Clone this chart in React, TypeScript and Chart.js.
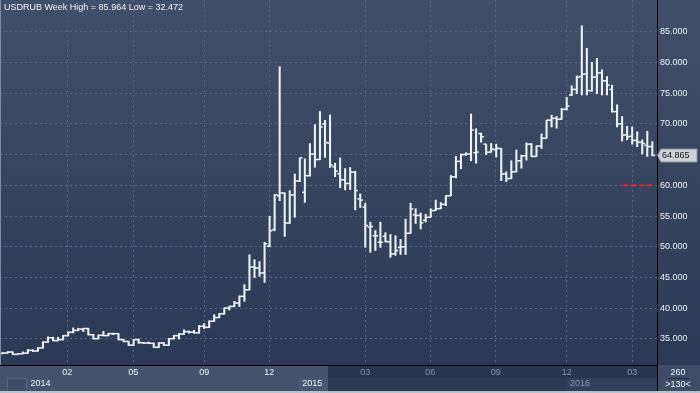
import React, { useEffect, useRef } from 'react';
import { Chart, registerables } from 'chart.js';

Chart.register(...registerables);

const TITLE = 'USDRUB Week High = 85.964 Low = 32.472';

const OPEN = [
  32.65, 32.72, 32.88, 32.5, 32.6, 32.7, 33.15, 33.05, 33.54, 34.5,
  35.2, 34.73, 34.9, 35.54, 36.08, 36.4, 36.6, 36.7, 35.7, 35.05,
  35.6, 35.55, 35.87, 35.87, 34.9, 34.6, 34.0, 34.9, 34.4, 34.35,
  34.3, 33.65, 34.35, 34.0, 35.05, 35.54, 35.8, 36.2, 36.1, 36.0,
  37.06, 36.9, 37.9, 38.5, 39.1, 40.04, 40.3, 40.86, 41.94, 43.0,
  46.7, 46.55, 45.74, 50.1, 52.8, 58.3, 58.75, 53.87, 58.43, 60.7,
  58.86, 61.57, 65.1, 64.2, 69.97, 66.88, 63.0, 61.9, 60.9, 60.3,
  62.14, 57.8, 56.45, 53.2, 51.8, 50.75, 51.7, 50.8, 48.85, 49.9,
  50.0, 52.2, 55.2, 55.1, 54.3, 54.8, 55.9, 56.2, 56.9, 58.3,
  61.4, 63.9, 65.0, 65.1, 65.3, 68.4, 66.7, 65.4, 65.8, 66.0,
  61.84, 61.1, 62.2, 64.0, 64.8, 66.7, 64.7, 66.4, 67.65, 70.6,
  70.9, 70.74, 72.36, 74.7, 75.6, 77.7, 78.1, 75.4, 77.6, 78.3,
  77.0, 75.6, 72.0, 70.0, 68.2, 68.0, 67.3, 67.0, 66.5, 66.3,
];
const HIGH = [
  32.8, 32.95, 32.9, 32.65, 32.9, 33.3, 33.25, 33.6, 34.55, 35.35,
  35.3, 35.3, 35.6, 36.15, 36.8, 36.75, 36.75, 36.75, 35.75, 35.65,
  36.25, 35.95, 35.95, 35.9, 34.95, 34.65, 34.95, 35.0, 34.45, 34.5,
  34.35, 34.4, 34.4, 35.1, 35.6, 35.9, 36.5, 36.3, 36.4, 37.2,
  37.5, 37.95, 38.96, 39.15, 40.05, 40.35, 41.13, 42.0, 43.84, 48.7,
  47.9, 47.6, 50.73, 54.96, 58.5, 79.3, 58.8, 59.13, 61.84, 64.45,
  64.3, 66.78, 69.87, 72.0, 70.56, 71.45, 63.6, 64.47, 62.73, 62.9,
  62.3, 58.6, 57.1, 54.0, 52.65, 54.0, 52.3, 52.0, 51.8, 51.2,
  54.5, 57.1, 56.2, 55.5, 55.3, 56.2, 57.6, 57.2, 58.3, 61.6,
  64.7, 65.1, 65.3, 71.6, 69.2, 68.5, 66.7, 66.8, 66.7, 66.0,
  62.2, 64.0, 65.75, 64.9, 66.9, 66.8, 66.4, 68.35, 70.6, 71.4,
  71.2, 72.5, 74.3, 76.2, 77.8, 85.96, 82.3, 80.0, 80.66, 78.8,
  77.7, 76.3, 73.1, 71.2, 69.6, 69.5, 68.7, 67.4, 68.8, 67.1,
];
const LOW = [
  32.6, 32.7, 32.47, 32.48, 32.58, 32.68, 32.95, 33.0, 33.5, 34.45,
  34.7, 34.7, 34.85, 35.5, 36.0, 36.35, 36.2, 35.65, 35.0, 35.0,
  35.5, 35.5, 35.7, 34.85, 34.55, 33.95, 33.95, 34.3, 34.25, 34.25,
  33.6, 33.6, 33.95, 33.95, 35.0, 35.0, 35.75, 35.95, 35.95, 35.95,
  36.7, 36.85, 37.85, 38.45, 39.05, 39.7, 40.25, 40.3, 41.13, 43.0,
  45.0, 45.2, 44.2, 50.0, 52.6, 57.5, 51.7, 53.8, 54.8, 60.6,
  57.23, 61.5, 62.95, 64.2, 64.55, 62.9, 61.4, 59.6, 59.26, 59.3,
  56.0, 56.4, 49.9, 49.1, 49.4, 49.9, 50.8, 48.3, 48.6, 48.75,
  48.75, 52.2, 53.8, 52.9, 54.05, 54.8, 55.9, 56.2, 56.7, 58.3,
  61.2, 62.7, 64.9, 64.0, 63.6, 67.0, 65.0, 65.4, 64.6, 60.76,
  60.6, 61.1, 62.2, 62.8, 64.1, 64.7, 64.7, 66.0, 67.65, 69.5,
  69.3, 70.74, 72.26, 74.6, 74.9, 74.7, 74.7, 75.3, 74.9, 74.7,
  74.7, 71.9, 69.5, 67.2, 67.4, 66.7, 66.3, 65.1, 64.7, 64.8,
];
const CLOSE = [
  32.72, 32.88, 32.5, 32.6, 32.7, 33.15, 33.05, 33.54, 34.5, 35.2,
  34.73, 34.9, 35.54, 36.08, 36.4, 36.6, 36.7, 35.7, 35.05, 35.6,
  35.55, 35.87, 35.87, 34.9, 34.6, 34.0, 34.9, 34.4, 34.35, 34.3,
  33.65, 34.35, 34.0, 35.05, 35.54, 35.8, 36.2, 36.1, 36.0, 37.06,
  36.9, 37.9, 38.5, 39.1, 40.04, 40.3, 40.86, 41.94, 43.0, 46.7,
  46.55, 45.74, 50.5, 52.6, 58.48, 58.75, 53.87, 58.43, 60.7, 64.45,
  61.57, 65.1, 64.2, 69.49, 66.95, 63.3, 62.3, 60.9, 60.3, 62.14,
  59.15, 57.6, 53.46, 53.3, 51.8, 50.75, 50.85, 48.85, 49.4, 50.0,
  52.2, 56.17, 55.1, 53.9, 54.8, 55.9, 56.2, 56.9, 58.3, 61.4,
  63.9, 65.0, 65.1, 69.0, 65.4, 67.9, 65.4, 65.9, 66.0, 61.84,
  61.1, 62.2, 64.0, 64.8, 66.7, 64.7, 66.4, 67.65, 70.6, 70.9,
  70.74, 72.36, 72.9, 75.6, 77.6, 78.1, 75.4, 77.6, 78.3, 77.0,
  76.3, 72.0, 70.0, 68.2, 67.9, 67.3, 67.0, 66.8, 66.3, 64.865,
];

const MONTH_POS = [12.83, 25.93, 40.03, 52.94, 72.0, 84.9, 97.9, 112.0, 125.0];
const MONTH_LABELS = ['02', '05', '09', '12', '03', '06', '09', '12', '03'];
const YEAR_POS = [5.5, 59.5, 112.65];
const YEAR_LABELS = ['2014', '2015', '2016'];
const Y_TICKS = [35, 40, 45, 50, 55, 60, 65, 70, 75, 80, 85];
const LAST_PRICE = 64.865;
const TARGET_LEVEL = 60;
const TARGET_FROM = 123.2;
const TARGET_TO = 129.1;
const BARS_TOTAL = '260';
const BARS_VISIBLE = '>130<';

const FONT = 'Liberation Sans, Arial, sans-serif';
const WHITE = '#eef1f6';
const X_MIN = -0.536;
const X_MAX = 129.93;

const decor = {
  id: 'decor',
  beforeDraw(chart: any) {
    const { ctx, width, height, chartArea: ca } = chart;
    ctx.save();
    const g = ctx.createLinearGradient(0, 0, 0, ca.bottom);
    g.addColorStop(0, '#414f6a');
    g.addColorStop(1, '#2c3956');
    ctx.fillStyle = g;
    ctx.fillRect(0, 0, width, ca.bottom);
    const b = ca.bottom;
    ctx.fillStyle = '#283450';
    ctx.fillRect(0, b, ca.right, height - b);
    ctx.fillStyle = '#2e3a55';
    ctx.fillRect(0, b + 13, ca.right, height - b - 13);
    ctx.fillStyle = '#44526d';
    ctx.fillRect(0, b, 328, height - b);
    ctx.fillStyle = '#4a5874';
    ctx.fillRect(299, b + 13, 29, 12);
    ctx.fillStyle = '#404d68';
    ctx.fillRect(7, b + 13, 20, height - b - 13);
    ctx.strokeStyle = '#56647e';
    ctx.lineWidth = 1;
    ctx.strokeRect(7.5, b + 13.5, 19, height - b - 13);
    ctx.fillStyle = '#343f5a';
    ctx.fillRect(567, b + 13, ca.right - 567, 12);
    ctx.fillStyle = '#3f4c67';
    ctx.fillRect(ca.right, b, width - ca.right, height - b);
    ctx.restore();
  },
  afterDraw(chart: any) {
    const { ctx, width, height, chartArea: ca, scales } = chart;
    ctx.save();
    ctx.font = `9px ${FONT}`;
    ctx.fillStyle = WHITE;
    ctx.textBaseline = 'middle';
    ctx.textAlign = 'left';
    ctx.fillText(TITLE, 4, 8);
    const py = Math.round(scales.y.getPixelForValue(LAST_PRICE)) + 0.5;
    ctx.beginPath();
    ctx.moveTo(ca.right + 0.5, py);
    ctx.lineTo(ca.right + 4, py - 6.5);
    ctx.lineTo(width - 3, py - 6.5);
    ctx.lineTo(width - 3, py + 6.5);
    ctx.lineTo(ca.right + 4, py + 6.5);
    ctx.closePath();
    ctx.fillStyle = '#cfd3d9';
    ctx.fill();
    ctx.strokeStyle = '#8c929c';
    ctx.lineWidth = 1;
    ctx.stroke();
    ctx.fillStyle = '#111';
    ctx.fillText(LAST_PRICE.toFixed(3), ca.right + 5, py + 0.5);
    ctx.fillStyle = WHITE;
    ctx.textAlign = 'center';
    ctx.fillText(BARS_TOTAL, 678, ca.bottom + 7.5);
    ctx.fillText(BARS_VISIBLE, 678, ca.bottom + 19.5);
    ctx.strokeStyle = '#1e2a40';
    ctx.beginPath();
    ctx.moveTo(668, ca.bottom + 13.5);
    ctx.lineTo(689, ca.bottom + 13.5);
    ctx.stroke();
    ctx.fillStyle = '#b9c0cc';
    ctx.fillRect(0, height - 2, width, 2);
    ctx.fillStyle = '#7d8cab';
    ctx.fillRect(0, 0, 1, ca.bottom);
    ctx.fillStyle = '#000';
    ctx.fillRect(ca.right, ca.bottom, 1, height - ca.bottom - 2);
    ctx.restore();
  },
};

function xAxis(pos: number[], labels: string[], opts: any) {
  return {
    type: 'linear',
    position: 'bottom',
    offset: false,
    min: X_MIN,
    max: X_MAX,
    afterBuildTicks: (s: any) => {
      s.ticks = pos.map((v) => ({ value: v }));
    },
    afterFit: (s: any) => {
      s.height = opts.height;
      s.paddingLeft = 0;
      s.paddingRight = 0;
    },
    ticks: {
      autoSkip: false,
      maxRotation: 0,
      minRotation: 0,
      align: opts.align,
      padding: opts.padding,
      font: { family: FONT, size: 9 },
      color: (c: any) => (c.index < opts.bright ? WHITE : '#8795ad'),
      callback: (_v: any, i: number) => labels[i],
    },
    grid: opts.grid,
    border: opts.border,
    weight: opts.weight,
  };
}

export default function App() {
  const ref = useRef<HTMLCanvasElement | null>(null);
  useEffect(() => {
    if (!ref.current) return;
    const idx = CLOSE.map((_, i) => i);
    const chart = new Chart(ref.current, {
      type: 'bar',
      data: {
        datasets: [
          {
            type: 'bar',
            data: idx.map((i) => ({ x: i, y: [LOW[i], HIGH[i]] })) as any,
            backgroundColor: WHITE,
            borderWidth: 0,
            barThickness: 1.4,
            order: 2,
          } as any,
          {
            type: 'scatter',
            data: idx.map((i) => ({ x: i - 0.27, y: OPEN[i] })),
            pointStyle: 'line',
            pointRadius: 1.4,
            pointBorderColor: WHITE,
            pointBorderWidth: 1.5,
            borderColor: WHITE,
            order: 1,
          } as any,
          {
            type: 'scatter',
            data: idx.map((i) => ({ x: i + 0.27, y: CLOSE[i] })),
            pointStyle: 'line',
            pointRadius: 1.4,
            pointBorderColor: WHITE,
            pointBorderWidth: 1.5,
            borderColor: WHITE,
            order: 1,
          } as any,
          {
            type: 'line',
            data: [
              { x: TARGET_FROM, y: TARGET_LEVEL },
              { x: TARGET_TO, y: TARGET_LEVEL },
            ],
            borderColor: '#e0212c',
            borderWidth: 2,
            borderDash: [5, 3],
            pointRadius: 0,
            order: 0,
          } as any,
        ],
      },
      options: {
        animation: false,
        responsive: false,
        devicePixelRatio: 1,
        events: [],
        layout: { padding: 0, autoPadding: false },
        plugins: { legend: { display: false }, tooltip: { enabled: false }, title: { display: false } },
        scales: {
          x: xAxis(MONTH_POS, MONTH_LABELS, {
            height: 13,
            padding: 2,
            bright: 4,
            weight: 0,
            align: 'center',
            grid: { color: '#56668a', lineWidth: 1, drawTicks: false, offset: false },
            border: { display: true, color: '#000', width: 1, dash: [2, 3] },
          }),
          x2: xAxis(YEAR_POS, YEAR_LABELS, {
            height: 15,
            padding: 0,
            bright: 2,
            weight: 1,
            align: 'start',
            grid: { display: false, drawTicks: false, offset: false },
            border: { display: false },
          }),
          y: {
            type: 'linear',
            position: 'right',
            min: 30.77,
            max: 90.15,
            afterBuildTicks: (s: any) => {
              s.ticks = Y_TICKS.map((v) => ({ value: v }));
            },
            afterFit: (s: any) => {
              s.width = 43;
              s.paddingTop = 0;
              s.paddingBottom = 0;
            },
            ticks: {
              padding: 3,
              font: { family: FONT, size: 9 },
              color: WHITE,
              callback: (v: any) => Number(v).toFixed(3),
            },
            grid: { color: '#56668a', lineWidth: 1, drawTicks: false },
            border: { display: true, color: '#000', width: 1, dash: [2, 3] },
          },
        },
      } as any,
      plugins: [decor],
    });
    return () => chart.destroy();
  }, []);
  return (
    <div style={{ position: 'absolute', left: 0, top: 0, width: 700, height: 393 }}>
      <canvas ref={ref} width={700} height={393} style={{ display: 'block', width: 700, height: 393 }} />
    </div>
  );
}
